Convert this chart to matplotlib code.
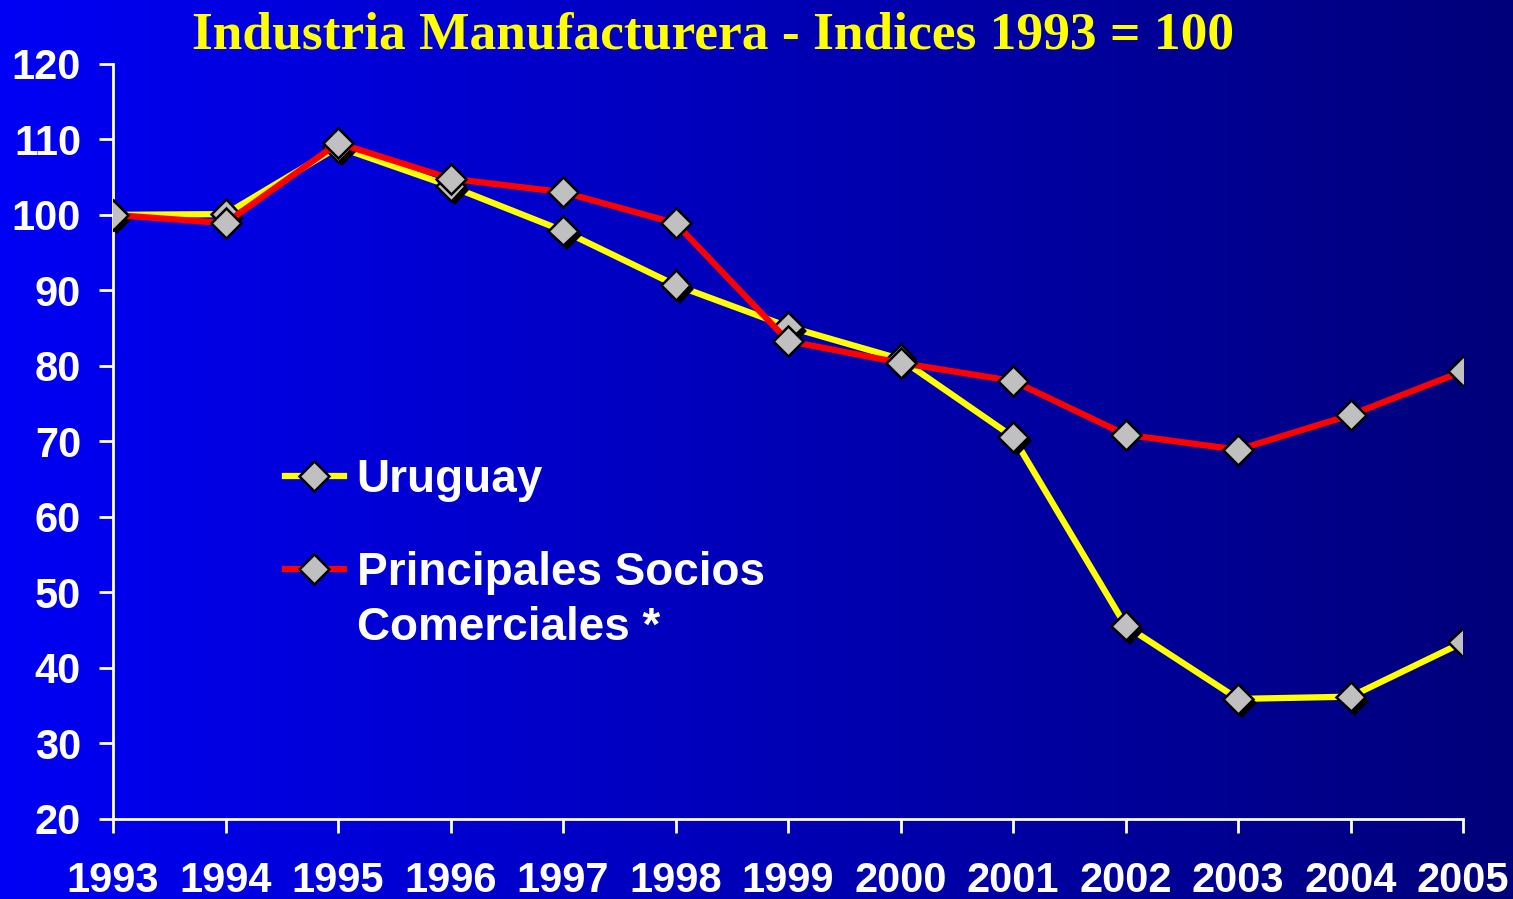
import matplotlib
matplotlib.use("Agg")
import matplotlib.pyplot as plt
import matplotlib.patheffects as pe
import numpy as np

years = [1993, 1994, 1995, 1996, 1997, 1998, 1999, 2000, 2001, 2002, 2003, 2004, 2005]
uruguay = [100, 100.1, 109.0, 103.8, 97.9, 90.7, 85.2, 80.9, 70.6, 45.6, 35.9, 36.2, 43.4]
socios = [100, 98.9, 109.5, 104.8, 103.0, 98.9, 83.3, 80.4, 78.0, 70.9, 68.9, 73.5, 79.3]
yticks = [20, 30, 40, 50, 60, 70, 80, 90, 100, 110, 120]
title = "Industria Manufacturera - Indices 1993 = 100"
labels = ["Uruguay", "Principales Socios"]
label_cont = "Comerciales *"

fig = plt.figure(figsize=(15.13, 8.99), dpi=100)

# horizontal blue gradient background
bg = fig.add_axes([0, 0, 1, 1], zorder=-10)
grad = np.linspace(0, 1, 256)
left = np.array([0, 0, 245]) / 255
right = np.array([0, 0, 122]) / 255
img = left[None, None, :] * (1 - grad[None, :, None]) + right[None, None, :] * grad[None, :, None]
bg.imshow(img, aspect="auto", extent=[0, 1, 0, 1])
bg.axis("off")

ax = fig.add_axes([0.0747, 0.089, 0.8923, 0.840])
ax.patch.set_alpha(0)

mk = dict(marker="D", markersize=15, markerfacecolor="#C0C0C0",
          markeredgecolor="black", markeredgewidth=1.8)
shadow = [pe.SimplePatchShadow(offset=(3, -3), shadow_rgbFace="black", alpha=1), pe.Normal()]

ax.plot(years, uruguay, color="#FFFF00", lw=4.5, zorder=2)
ax.plot(years, uruguay, linestyle="none", zorder=3, path_effects=shadow, **mk)
ax.plot(years, socios, color="#FF0000", lw=4.5, zorder=4)
ax.plot(years, socios, linestyle="none", zorder=5, **mk)

h1, = ax.plot([], [], color="#FFFF00", lw=4.5, **mk)
h2, = ax.plot([], [], color="#FF0000", lw=4.5, **mk)
leg = ax.legend([h1, h2], labels, loc="upper left", bbox_to_anchor=(0.0965, 0.533),
                frameon=False, handlelength=1.3, handletextpad=0.27,
                labelspacing=1.07, prop=dict(family="Liberation Sans", weight="bold", size=33))
for t in leg.get_texts():
    t.set_color("white")
# second line of the second label, placed under it so the marker sits on line one
ax.annotate(label_cont, xy=(0, 0), xycoords=leg.get_texts()[1], xytext=(0, -39.5),
            textcoords="offset points", ha="left", va="bottom", color="white",
            fontsize=33, fontweight="bold", fontfamily="Liberation Sans",
            zorder=10, annotation_clip=False)

ax.set_xlim(1993, 2005)
ax.set_ylim(20, 120)
ax.set_xticks(years)
ax.set_yticks(yticks)
ax.tick_params(axis="both", colors="white", width=2, length=10, direction="out")
ax.tick_params(axis="x", pad=20)
ax.tick_params(axis="y", pad=13)
for lab in ax.get_xticklabels() + ax.get_yticklabels():
    lab.set_fontfamily("Liberation Sans")
    lab.set_fontweight("bold")
    lab.set_fontsize(30)
    lab.set_color("white")
for s in ["top", "right"]:
    ax.spines[s].set_visible(False)
for s in ["left", "bottom"]:
    ax.spines[s].set_color("white")
    ax.spines[s].set_linewidth(2)

fig.text(0.471, 0.961, title, ha="center", va="center", color="#FFFF00",
         fontsize=38.5, fontweight="bold", fontfamily="Liberation Serif")

fig.savefig("out.png", dpi=100)
